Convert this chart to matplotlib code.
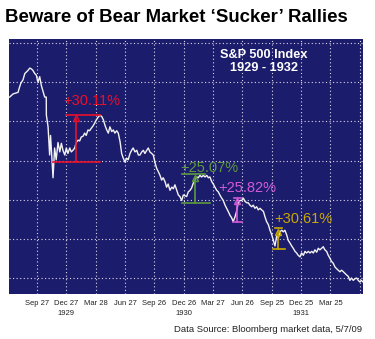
import matplotlib
matplotlib.use("Agg")
import matplotlib.pyplot as plt
import matplotlib.transforms as mtransforms

# weeks counted from Fri Sep 27 1929, S&P 500 level
weeks = [-12.1, -10.6, -8.4, -7.7, -7.1, -6.2, -5.4, -4.0, -3.2, -2.5, -1.8, -1.0, -0.3,
         0.4, 1.2, 1.9, 2.7, 3.4, 4.1, 4.15, 4.9, 5.6, 6.0, 7.1, 7.8, 8.5, 9.3, 10.1,
         10.8, 11.5, 12.3, 13.0, 13.7, 14.5, 15.2, 15.9, 16.7, 17.4, 18.2, 18.9, 19.6,
         20.4, 21.1, 21.8, 22.6, 23.3, 24.0, 24.8, 25.6, 26.3, 27.0, 27.9, 28.7, 29.4,
         30.1, 30.9, 31.6, 32.3, 33.1, 33.8, 34.5, 35.3, 36.0, 36.8, 37.5, 38.2, 39.0,
         39.7, 40.4, 41.2, 41.9, 42.6, 43.4, 44.2, 44.9, 45.6, 46.4, 47.1, 47.8, 48.6,
         49.3, 50.0, 50.8, 51.5, 52.3, 53.0, 53.7, 54.5, 55.2, 55.9, 56.7, 57.4, 58.1,
         58.9, 59.7, 60.4, 61.1, 61.9, 62.6, 63.3, 64.1, 64.8, 65.5, 66.3, 67.0, 67.8,
         68.5, 69.2, 70.0, 70.7, 71.4, 72.2, 72.9, 73.7, 74.4, 75.2, 75.9, 76.6, 77.4,
         78.1, 78.8, 79.6, 80.3, 81.0, 81.8, 82.5, 83.3, 84.0, 84.7, 85.5, 86.2, 86.9,
         87.7, 88.4, 89.1, 89.9, 90.7, 91.4, 92.1, 92.9, 93.6, 94.3, 95.1, 95.8, 96.5,
         97.3, 98.0, 98.8, 99.5, 100.3, 101.0, 101.7, 102.5, 103.2, 104.0, 104.7, 105.4,
         106.2, 106.9, 107.6, 108.4, 109.1, 109.8, 110.6, 111.3, 112.0, 112.8, 113.5,
         114.3, 115.0, 115.7, 116.5, 117.2, 118.0, 118.7, 119.4, 120.2, 120.9, 121.7,
         122.4, 123.1, 123.9, 124.6, 125.3, 126.1, 126.8, 127.5, 128.3, 129.0, 129.8,
         130.5, 131.2, 132.0, 132.7, 133.4, 134.2, 134.9, 135.7, 136.4, 137.1, 137.9,
         138.6, 139.3, 140.1, 140.8, 141.6, 142.3, 143.0, 143.7, 144.4]
sp500 = [28.1, 28.5, 28.7, 29.4, 29.9, 30.3, 31.1, 31.5, 31.8, 31.7, 31.5, 31.1, 30.9,
         30.0, 30.7, 29.6, 28.8, 28.1, 28.1, 25.8, 24.3, 20.7, 23.2, 17.8, 21.6, 20.1,
         22.3, 21.1, 22.2, 21.3, 20.7, 21.6, 20.9, 21.6, 21.1, 21.3, 21.6, 22.3, 22.6,
         22.5, 23.0, 23.1, 23.5, 23.2, 23.9, 23.8, 24.1, 24.4, 24.8, 25.2, 25.5, 25.8,
         25.6, 25.2, 24.5, 23.9, 23.5, 24.3, 23.7, 23.9, 23.5, 23.8, 23.5, 22.4, 20.9,
         20.3, 19.8, 20.3, 20.1, 20.9, 21.3, 21.6, 21.1, 21.3, 20.7, 20.7, 21.1, 21.3,
         20.9, 21.3, 21.6, 21.1, 20.9, 20.7, 19.7, 19.0, 18.6, 18.1, 17.5, 17.8, 17.3,
         16.6, 17.0, 16.2, 16.6, 16.4, 16.9, 16.2, 15.6, 15.4, 14.9, 15.6, 15.5, 15.4,
         16.0, 16.2, 16.5, 17.1, 17.5, 17.9, 17.8, 18.1, 17.9, 18.1, 17.9, 18.1, 17.8,
         17.9, 17.3, 17.0, 16.6, 16.2, 16.0, 15.6, 15.2, 14.9, 14.3, 13.9, 13.5, 13.0,
         12.7, 12.2, 12.8, 13.5, 14.6, 14.9, 14.9, 15.2, 14.8, 14.6, 14.6, 14.3, 14.1,
         14.3, 13.9, 14.1, 13.7, 13.9, 13.7, 13.5, 12.8, 12.2, 11.8, 11.1, 10.5, 9.8,
         9.1, 10.4, 10.1, 10.9, 11.1, 10.9, 11.1, 10.5, 9.8, 9.5, 9.1, 8.8, 8.4, 8.2,
         7.9, 7.7, 8.2, 7.9, 8.4, 8.2, 8.4, 8.2, 8.4, 8.2, 8.6, 8.3, 8.8, 8.6, 8.8, 9.0,
         8.6, 8.4, 7.9, 7.5, 7.1, 6.9, 6.4, 6.2, 6.0, 5.8, 6.0, 5.8, 5.6, 5.4, 5.2, 4.7,
         5.0, 4.7, 4.9, 5.0, 4.7, 4.5, 4.7, 4.5]

tick_weeks = [0, 13, 26, 39, 52, 65, 78, 91, 104, 117, 130]
tick_labels = ["Sep 27", "Dec 27", "Mar 28", "Jun 27", "Sep 26", "Dec 26",
               "Mar 27", "Jun 26", "Sep 25", "Dec 25", "Mar 25"]
grid_weeks = tick_weeks + [143]
year_weeks = [13, 65, 117]
year_labels = ["1929", "1930", "1931"]

# rallies: low level, percent gain, bracket span (weeks), vertical bar week
rally_pct = [30.11, 25.07, 25.82, 30.61]
rally_low = [19.85, 14.6, 12.1, 8.7]
rally_bot = [(7.1, 27.9), (64.2, 76.6), (86.9, 90.8), (104.5, 109.8)]
rally_top = [(12.8, 27.9), (64.2, 74.5), (87.4, 90.3), (105.5, 108.5)]
rally_bar = [17.3, 70.0, 88.8, 106.7]
rally_colors = ["#e8102a", "#5e9a3c", "#d25ad8", "#c9a800"]
rally_text_pos = [(11.5, 27.6), (63.5, 19.1), (80.5, 16.5), (105.0, 12.5)]

navy = "#1c1c6c"

fig = plt.figure(figsize=(3.75, 3.39), dpi=100)
ax = fig.add_axes([0.024, 0.1327, 0.944, 0.752])
ax.set_facecolor(navy)

ax.set_xlim(-12.4, 144.4)
ax.set_ylim(2.96, 35.5)

for g in grid_weeks:
    ax.axvline(g, color="#d8d8e8", lw=0.8, ls=(0, (1, 2.2)), zorder=1)
for v in [5, 10, 15, 20, 25, 30, 35]:
    ax.axhline(v, color="#d8d8e8", lw=0.8, ls=(0, (1, 2.2)), zorder=1)

ax.plot(weeks, sp500, color="#f2f2f2", lw=1.0, zorder=3)

for i in range(len(rally_pct)):
    c = rally_colors[i]
    lo = rally_low[i]
    hi = lo * (1 + rally_pct[i] / 100)
    ax.plot(rally_bot[i], [lo, lo], color=c, lw=1.2, zorder=4)
    ax.plot(rally_top[i], [hi, hi], color=c, lw=1.2, zorder=4)
    ax.plot([rally_bar[i], rally_bar[i]], [lo, hi - 0.55], color=c, lw=1.2, zorder=4)
    ax.plot([rally_bar[i]], [hi - 0.45], marker="^", ms=5, mfc="none", mec=c,
            mew=1.0, zorder=4)
    tx, ty = rally_text_pos[i]
    ax.text(tx, ty, "+%.2f%%" % rally_pct[i], color=c, fontsize=10.5,
            family="Liberation Sans", ha="left", va="center", zorder=5)

ax.text(0.72, 0.913, "S&P 500 Index\n1929 - 1932", transform=ax.transAxes,
        color="white", fontsize=9.2, fontweight="bold", family="Liberation Sans",
        ha="center", va="center", linespacing=1.1)

ax.set_xticks(tick_weeks)
ax.set_xticklabels(tick_labels, fontsize=5.5, family="Liberation Sans",
                   color="#222222")
ax.set_yticks([])
ax.tick_params(axis="x", length=0, pad=4)
for s in ax.spines.values():
    s.set_visible(False)

trans = mtransforms.blended_transform_factory(ax.transData, fig.transFigure)
for w, lab in zip(year_weeks, year_labels):
    ax.text(w, 0.076, lab, transform=trans, fontsize=5.5,
            family="Liberation Sans", color="#222222", ha="center", va="center")

fig.text(0.014, 0.948, "Beware of Bear Market \u2018Sucker\u2019 Rallies",
         fontsize=13.4, fontweight="bold", family="Liberation Sans",
         ha="left", va="center", color="black")
fig.text(0.965, 0.028, "Data Source: Bloomberg market data, 5/7/09", fontsize=6.8,
         family="Liberation Sans", ha="right", va="center", color="#222222")

fig.savefig("out.png", dpi=100)
